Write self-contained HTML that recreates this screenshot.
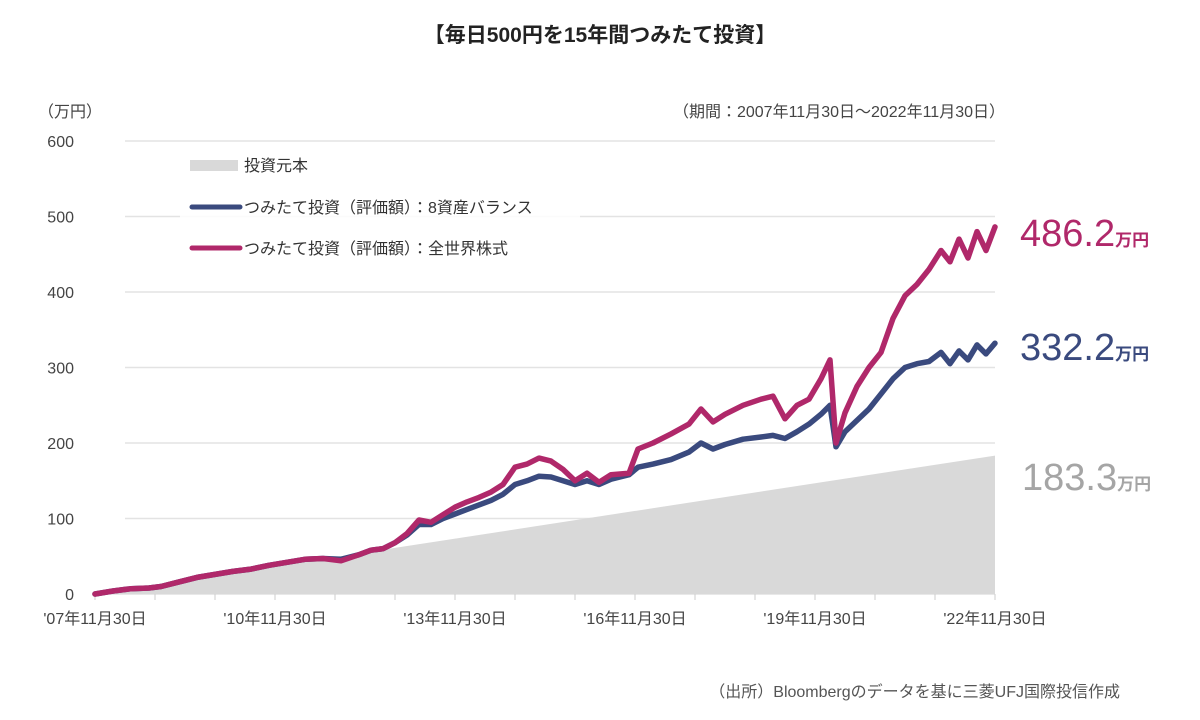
<!DOCTYPE html>
<html><head><meta charset="utf-8">
<style>
body{margin:0;background:#fff;width:1200px;height:715px;overflow:hidden;font-family:"Liberation Sans","Noto Sans CJK JP",sans-serif;}
svg text{font-family:"Liberation Sans","Noto Sans CJK JP",sans-serif;}
</style></head><body>
<svg id="chart" width="1200" height="715" viewBox="0 0 1200 715" xmlns="http://www.w3.org/2000/svg">
<text x="600" y="42" text-anchor="middle" font-size="21" font-weight="bold" fill="#222">【毎日500円を15年間つみたて投資】</text>
<text x="38" y="117" font-size="16" fill="#444">（万円）</text>
<text x="1005" y="117" text-anchor="end" font-size="16" fill="#444">（期間：2007年11月30日～2022年11月30日）</text>
<g id="grid"></g>
<g id="marks"></g>
<g id="legend">
<rect x="190" y="160" width="48" height="11" fill="#d9d9d9"/>
<rect x="180" y="182" width="400" height="80" fill="#fff" opacity="0.85"/>
<text x="244" y="171" font-size="16" fill="#333">投資元本</text>
<line x1="192" y1="207" x2="240" y2="207" stroke="#3a4a7e" stroke-width="5" stroke-linecap="round"/>
<text x="244" y="213" font-size="16" fill="#333">つみたて投資（評価額）：8資産バランス</text>
<line x1="192" y1="248" x2="240" y2="248" stroke="#b0286a" stroke-width="5" stroke-linecap="round"/>
<text x="244" y="254" font-size="16" fill="#333">つみたて投資（評価額）：全世界株式</text>
</g>
<text x="1020" y="246" font-size="38" fill="#b0286a">486.2<tspan font-size="17" font-weight="bold">万円</tspan></text>
<text x="1020" y="360" font-size="38" fill="#3a4a7e">332.2<tspan font-size="17" font-weight="bold">万円</tspan></text>
<text x="1022" y="490" font-size="38" fill="#a5a5a5">183.3<tspan font-size="17" font-weight="bold">万円</tspan></text>
<text x="1120" y="697" text-anchor="end" font-size="16" fill="#555">（出所）Bloombergのデータを基に三菱UFJ国際投信作成</text>
</svg>
<script>
const yTicks=[0,100,200,300,400,500,600];
const xTickLabels=["'07年11月30日","'10年11月30日","'13年11月30日","'16年11月30日","'19年11月30日","'22年11月30日"];
const xTickYears=[0,3,6,9,12,15];
const principalT=[0,15];
const principalV=[0,183.3];
const worldT=[0,0.3,0.6,0.9,1.1,1.4,1.7,2,2.3,2.6,2.9,3.2,3.5,3.8,4.1,4.4,4.6,4.8,5,5.2,5.4,5.6,5.8,6,6.2,6.4,6.6,6.8,7,7.2,7.4,7.6,7.8,8,8.2,8.4,8.6,8.9,9.05,9.3,9.6,9.9,10.1,10.3,10.5,10.8,11.1,11.3,11.5,11.7,11.9,12.1,12.25,12.35,12.5,12.7,12.9,13.1,13.3,13.5,13.7,13.9,14.1,14.25,14.4,14.55,14.7,14.85,15];
const worldV=[0,4,7,8,10,16,22,26,30,33,38,42,46,47,44,52,58,60,68,80,98,95,105,115,122,128,135,145,168,172,180,176,165,150,160,148,158,160,192,200,212,225,245,228,238,250,258,262,232,250,258,285,310,200,240,275,300,320,365,395,410,430,455,440,470,445,480,455,486.2];
const balanceT=[0,0.3,0.6,0.9,1.1,1.4,1.7,2,2.3,2.6,2.9,3.2,3.5,3.8,4.1,4.4,4.6,4.8,5,5.2,5.4,5.6,5.8,6,6.2,6.4,6.6,6.8,7,7.2,7.4,7.6,7.8,8,8.2,8.4,8.6,8.9,9.05,9.3,9.6,9.9,10.1,10.3,10.5,10.8,11.1,11.3,11.5,11.7,11.9,12.1,12.25,12.35,12.5,12.7,12.9,13.1,13.3,13.5,13.7,13.9,14.1,14.25,14.4,14.55,14.7,14.85,15];
const balanceV=[0,4,7,8,10,16,22,26,30,33,38,42,46,47,46,52,58,60,68,78,92,92,100,106,112,118,124,132,145,150,156,155,150,145,150,145,152,158,168,172,178,188,200,192,198,205,208,210,206,215,225,238,250,195,215,230,245,265,285,300,305,308,320,305,322,310,330,318,332.2];
const NS='http://www.w3.org/2000/svg';
const X0=95,X1=995,Y0=594,Y600=141;
const xs=t=>X0+(X1-X0)*t/15;
const ys=v=>Y0-(Y0-Y600)*v/600;
function mk(tag,attrs,parent){const e=document.createElementNS(NS,tag);for(const k in attrs)e.setAttribute(k,attrs[k]);parent.appendChild(e);return e;}
const grid=document.getElementById('grid'),marks=document.getElementById('marks');
yTicks.forEach(v=>{
  if(v>0){const l=mk('line',{x1:X0+30,x2:X1,y1:ys(v),y2:ys(v),stroke:'#e3e3e3','stroke-width':1.5},grid);
  
  }
  const t=mk('text',{x:74,y:ys(v)+6,'text-anchor':'end','font-size':16,fill:'#444'},grid);
  t.textContent=v;
  
  
});
for(let y=0;y<=15;y++){
  const l=mk('line',{x1:xs(y),x2:xs(y),y1:Y0,y2:Y0+6,stroke:'#ccc','stroke-width':1},grid);
  
  
}
const ax=mk('line',{x1:X0,x2:X1,y1:Y0,y2:Y0,stroke:'#d0d0d0','stroke-width':1},grid);


xTickLabels.forEach((s,i)=>{
  const t=mk('text',{x:xs(xTickYears[i]),y:624,'text-anchor':'middle','font-size':16,fill:'#444'},grid);
  t.textContent=s;
  
  
});
let pd='M'+xs(principalT[0])+','+ys(0);
principalT.forEach((t,i)=>{pd+=' L'+xs(t)+','+ys(principalV[i]);});
pd+=' L'+xs(principalT[principalT.length-1])+','+ys(0)+' Z';
const area=mk('path',{d:pd,fill:'#d9d9d9'},marks);


function line(T,V,color,name){
  const d=T.map((t,i)=>(i?'L':'M')+xs(t).toFixed(1)+','+ys(V[i]).toFixed(1)).join(' ');
  const p=mk('path',{d:d,fill:'none',stroke:color,'stroke-width':5.5,'stroke-linejoin':'round','stroke-linecap':'round'},marks);
  
  
}
line(balanceT,balanceV,'#3a4a7e','balance-line');
line(worldT,worldV,'#b0286a','world-stock-line');
</script>
</body></html>
